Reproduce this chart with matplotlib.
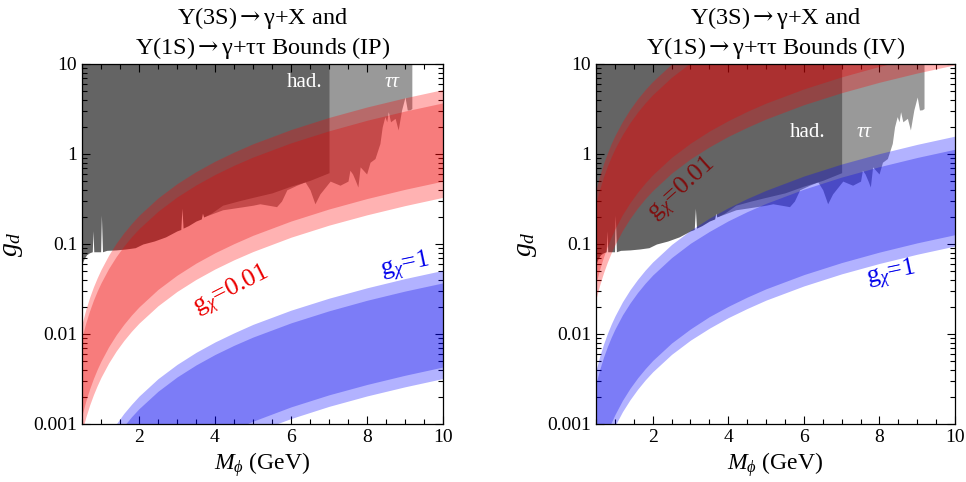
import matplotlib
matplotlib.use("Agg")
import matplotlib.pyplot as plt
from matplotlib.ticker import FixedLocator, MultipleLocator, LogLocator, NullFormatter

plt.rcParams['font.family'] = ['Liberation Serif', 'DejaVu Serif']
plt.rcParams['mathtext.fontset'] = 'custom'
plt.rcParams['mathtext.rm'] = 'Liberation Serif'
plt.rcParams['mathtext.it'] = 'Liberation Serif:italic'
plt.rcParams['mathtext.sf'] = 'DejaVu Serif'

# ---- data ----
M = [0.5, 0.6, 0.7, 0.8, 0.9, 1.0, 1.2, 1.4, 1.6, 1.8, 2.0, 2.5, 3.0, 3.5,
     4.0, 4.5, 5.0, 6.0, 7.0, 8.0, 9.0, 10.0]

# IP panel, g_chi = 0.01 (red)
ip_red_lu = [0.013, 0.0187, 0.0255, 0.0333, 0.0421, 0.052, 0.0749, 0.102, 0.133, 0.168, 0.208,
             0.325, 0.468, 0.637, 0.832, 1.05, 1.3, 1.87, 2.55, 3.33, 4.21, 5.2]
ip_red_du = [0.00925, 0.0133, 0.0181, 0.0237, 0.030, 0.037, 0.0533, 0.0725, 0.0947, 0.12, 0.148,
             0.231, 0.333, 0.453, 0.592, 0.749, 0.925, 1.33, 1.81, 2.37, 3.0, 3.7]
ip_red_dl = [0.00125, 0.0018, 0.00245, 0.0032, 0.00405, 0.005, 0.0072, 0.0098, 0.0128, 0.0162, 0.02,
             0.0313, 0.045, 0.0613, 0.08, 0.101, 0.125, 0.18, 0.245, 0.32, 0.405, 0.5]
ip_red_ll = [0.000825, 0.00119, 0.00162, 0.00211, 0.00267, 0.0033, 0.00475, 0.00647, 0.00845, 0.0107,
             0.0132, 0.0206, 0.0297, 0.0404, 0.0528, 0.0668, 0.0825, 0.119, 0.162, 0.211, 0.267, 0.33]
# IP panel, g_chi = 1 (blue)
ip_blue_lu = [1.28e-4, 1.84e-4, 2.5e-4, 3.26e-4, 4.13e-4, 5.1e-4, 7.34e-4, 1.0e-3, 1.31e-3, 1.65e-3,
              2.04e-3, 3.19e-3, 4.59e-3, 6.25e-3, 8.16e-3, 1.03e-2, 1.28e-2, 1.84e-2, 2.5e-2, 3.26e-2,
              4.13e-2, 5.1e-2]
ip_blue_du = [9.25e-5, 1.33e-4, 1.81e-4, 2.37e-4, 3.0e-4, 3.7e-4, 5.33e-4, 7.25e-4, 9.47e-4, 1.2e-3,
              1.48e-3, 2.31e-3, 3.33e-3, 4.53e-3, 5.92e-3, 7.49e-3, 9.25e-3, 1.33e-2, 1.81e-2, 2.37e-2,
              3.0e-2, 3.7e-2]
ip_blue_dl = [1.08e-5, 1.55e-5, 2.11e-5, 2.75e-5, 3.48e-5, 4.3e-5, 6.19e-5, 8.43e-5, 1.1e-4, 1.39e-4,
              1.72e-4, 2.69e-4, 3.87e-4, 5.27e-4, 6.88e-4, 8.71e-4, 1.075e-3, 1.55e-3, 2.11e-3, 2.75e-3,
              3.48e-3, 4.3e-3]
ip_blue_ll = [8e-6, 1.15e-5, 1.57e-5, 2.05e-5, 2.59e-5, 3.2e-5, 4.61e-5, 6.27e-5, 8.19e-5, 1.04e-4,
              1.28e-4, 2.0e-4, 2.88e-4, 3.92e-4, 5.12e-4, 6.48e-4, 8.0e-4, 1.15e-3, 1.57e-3, 2.05e-3,
              2.59e-3, 3.2e-3]

# IV panel, g_chi = 0.01 (red)
iv_red_lu = [0.4, 0.576, 0.784, 1.02, 1.3, 1.6, 2.3, 3.14, 4.1, 5.18, 6.4, 10, 14.4, 19.6, 25.6, 32.4,
             40, 57.6, 78.4, 102, 130, 160]
iv_red_du = [0.285, 0.41, 0.559, 0.73, 0.923, 1.14, 1.64, 2.23, 2.92, 3.69, 4.56, 7.13, 10.3, 14, 18.2,
             23.1, 28.5, 41, 55.9, 73, 92.3, 114]
iv_red_dl = [0.0368, 0.0529, 0.072, 0.0941, 0.119, 0.147, 0.212, 0.288, 0.376, 0.476, 0.588, 0.919,
             1.32, 1.8, 2.35, 2.98, 3.68, 5.29, 7.2, 9.41, 11.9, 14.7]
iv_red_ll = [0.0245, 0.0353, 0.048, 0.0627, 0.0794, 0.098, 0.141, 0.192, 0.251, 0.318, 0.392, 0.613,
             0.882, 1.2, 1.57, 1.98, 2.45, 3.53, 4.8, 6.27, 7.94, 9.8]
# IV panel, g_chi = 1 (blue)
iv_blue_lu = [0.00395, 0.00569, 0.00774, 0.0101, 0.0128, 0.0158, 0.0228, 0.031, 0.0404, 0.0512,
              0.0632, 0.0988, 0.142, 0.194, 0.253, 0.32, 0.395, 0.569, 0.774, 1.01, 1.28, 1.58]
iv_blue_du = [0.00283, 0.00407, 0.00554, 0.00723, 0.00915, 0.0113, 0.0163, 0.0221, 0.0289, 0.0366,
              0.0452, 0.0706, 0.102, 0.138, 0.181, 0.229, 0.283, 0.407, 0.554, 0.723, 0.915, 1.13]
iv_blue_dl = [0.000318, 0.000457, 0.000622, 0.000813, 0.00103, 0.00127, 0.00183, 0.00249, 0.00325,
              0.00411, 0.00508, 0.00794, 0.0114, 0.0156, 0.0203, 0.0257, 0.0318, 0.0457, 0.0622,
              0.0813, 0.103, 0.127]
iv_blue_ll = [0.000238, 0.000342, 0.000466, 0.000608, 0.00077, 0.00095, 0.00137, 0.00186, 0.00243,
              0.00308, 0.0038, 0.00594, 0.00855, 0.0116, 0.0152, 0.0192, 0.0238, 0.0342, 0.0466,
              0.0608, 0.077, 0.095]

# Upsilon(3S) hadronic bound
M_had = [0.5, 0.55, 0.62, 0.7, 0.77, 0.79, 0.81, 0.84, 0.95, 0.99, 1.01, 1.04, 1.15, 1.4, 1.65, 1.9,
         2.1, 2.4, 2.7, 3.0, 3.1, 3.13, 3.16, 3.3, 3.5, 3.64, 3.67, 3.7, 3.9, 4.2, 4.6, 5.0, 5.5,
         6.0, 6.5, 7.0]
g_had = [0.06, 0.068, 0.076, 0.08, 0.082, 0.14, 0.082, 0.082, 0.082, 0.082, 0.21, 0.082, 0.085,
         0.086, 0.088, 0.091, 0.1, 0.108, 0.12, 0.14, 0.145, 0.25, 0.15, 0.16, 0.18, 0.19, 0.22,
         0.2, 0.22, 0.27, 0.3, 0.33, 0.37, 0.44, 0.51, 0.62]
# Upsilon(1S) tau tau bound
M_tt = [3.7, 3.96, 4.2, 4.48, 4.75, 5.0, 5.18, 5.4, 5.62, 5.75, 5.89, 6.15, 6.37, 6.5, 6.63, 6.76,
        7.03, 7.29, 7.5, 7.55, 7.62, 7.7, 7.76, 7.82, 7.99, 8.08, 8.21, 8.34, 8.4, 8.47, 8.52, 8.56,
        8.62, 8.74, 8.82, 8.91, 9.0, 9.06, 9.13, 9.18]
g_tt = [0.2, 0.22, 0.24, 0.25, 0.26, 0.27, 0.28, 0.27, 0.26, 0.3, 0.4, 0.45, 0.49, 0.4, 0.28, 0.36,
        0.5, 0.45, 0.5, 0.66, 0.6, 0.5, 0.43, 0.72, 0.6, 0.81, 0.89, 1.31, 2.0, 2.6, 2.28, 2.95,
        2.28, 2.49, 1.85, 3.08, 4.3, 3.08, 3.1, 3.2]

ARROW = r'$\mathsf{\rightarrow}$'
titles = ["\u03a5(3S)" + ARROW + "\u03b3+X and\n\u03a5(1S)" + ARROW + "\u03b3+\u03c4\u03c4 Bounds (IP)",
          "\u03a5(3S)" + ARROW + "\u03b3+X and\n\u03a5(1S)" + ARROW + "\u03b3+\u03c4\u03c4 Bounds (IV)"]
ytick_vals = [0.001, 0.01, 0.1, 1, 10]
ytick_labels = ["0.001", "0.01", "0.1", "1", "10"]
xtick_vals = [2, 4, 6, 8, 10]

fig = plt.figure(figsize=(9.66, 4.82), dpi=100)
ax1 = fig.add_axes([82/966, 58/482, 361/966, 360/482])
ax2 = fig.add_axes([596/966, 58/482, 359/966, 360/482])

HAD = '#646464'
TT = '#999999'


def band(ax, lu, du, dl, ll, c_out, c_in):
    ax.fill_between(M, ll, lu, color=c_out, alpha=0.3, lw=0, zorder=3)
    ax.fill_between(M, dl, du, color=c_in, alpha=0.3, lw=0, zorder=4)


panels = [
    (ax1, titles[0], (ip_red_lu, ip_red_du, ip_red_dl, ip_red_ll),
     (ip_blue_lu, ip_blue_du, ip_blue_dl, ip_blue_ll)),
    (ax2, titles[1], (iv_red_lu, iv_red_du, iv_red_dl, iv_red_ll),
     (iv_blue_lu, iv_blue_du, iv_blue_dl, iv_blue_ll)),
]

for ax, title, red, blue in panels:
    ax.set_yscale('log')
    ax.fill_between(M_tt, g_tt, 10, color=TT, lw=0, zorder=1)
    ax.fill_between(M_had, g_had, 10, color=HAD, lw=0, zorder=2)
    band(ax, *red, (1, 0, 0), (0.9, 0, 0))
    band(ax, *blue, (0, 0, 1), (0, 0, 0.9))
    ax.set_xlim(0.5, 10)
    ax.set_ylim(1e-3, 10)
    ax.yaxis.set_major_locator(FixedLocator(ytick_vals))
    ax.set_yticklabels(ytick_labels)
    ax.yaxis.set_minor_locator(LogLocator(base=10, subs=range(2, 10)))
    ax.yaxis.set_minor_formatter(NullFormatter())
    ax.xaxis.set_major_locator(FixedLocator(xtick_vals))
    ax.xaxis.set_minor_locator(MultipleLocator(0.5))
    ax.tick_params(which='both', direction='in', top=True, right=True, labelsize=14,
                   width=0.8, colors='black', zorder=10)
    ax.tick_params(which='major', length=6)
    ax.tick_params(which='minor', length=3.5)
    for s in ax.spines.values():
        s.set_linewidth(0.9)
        s.set_zorder(10)
    ax.set_axisbelow(False)
    ax.set_title(title, fontsize=17.5, linespacing=1.2, pad=7)
    ax.set_xlabel(r'$M_\phi$ (GeV)', fontsize=17, labelpad=3)
    ax.set_ylabel(r'$g_d$', fontsize=20, labelpad=6)

# labels, left panel
ax1.text(6.37, 6.3, 'had.', color='white', fontsize=15, ha='center', va='center', zorder=6)
ax1.text(8.65, 6.3, '\u03c4\u03c4', color='white', fontsize=15, style='italic', ha='center',
         va='center', zorder=6)
ax1.text(4.45, 0.03, r'g$_\chi$=0.01', color=(0.92, 0, 0), fontsize=18.5, rotation=27,
         ha='center', va='center', zorder=6)
ax1.text(9.0, 0.056, r'g$_\chi$=1', color=(0, 0, 0.92), fontsize=18.5, rotation=12,
         ha='center', va='center', zorder=6)
# labels, right panel
ax2.text(6.1, 1.75, 'had.', color='white', fontsize=15, ha='center', va='center', zorder=6)
ax2.text(7.6, 1.75, '\u03c4\u03c4', color='white', fontsize=15, style='italic', ha='center',
         va='center', zorder=6)
ax2.text(2.8, 0.4, r'g$_\chi$=0.01', color=(0.5, 0.05, 0.05), fontsize=18.5, rotation=42,
         ha='center', va='center', zorder=6)
ax2.text(8.3, 0.046, r'g$_\chi$=1', color=(0, 0, 0.92), fontsize=18.5, rotation=12,
         ha='center', va='center', zorder=6)

fig.savefig('out.png', dpi=100)
